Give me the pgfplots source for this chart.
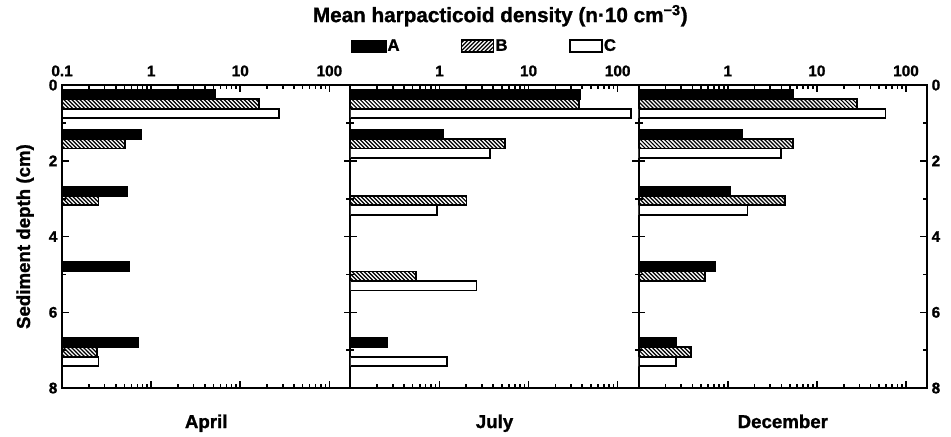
\documentclass[border=0pt]{standalone}
\usepackage{fontspec}
\setmainfont{Liberation Sans}[BoldFeatures={FakeBold=1.2}]
\usepackage{pgfplots}
\pgfplotsset{compat=1.18}
\usetikzlibrary{patterns}

% heavier hatch than the stock one
\pgfdeclarepatternformonly{hatchNW}{\pgfqpoint{-1pt}{-1pt}}{\pgfqpoint{4pt}{4pt}}{\pgfqpoint{3pt}{3pt}}{%
  \pgfsetlinewidth{0.9pt}
  \pgfpathmoveto{\pgfqpoint{0pt}{3pt}}
  \pgfpathlineto{\pgfqpoint{3.1pt}{-0.1pt}}
  \pgfusepath{stroke}}
\pgfdeclarepatternformonly{hatchNE}{\pgfqpoint{-1pt}{-1pt}}{\pgfqpoint{4pt}{4pt}}{\pgfqpoint{3pt}{3pt}}{%
  \pgfsetlinewidth{0.9pt}
  \pgfpathmoveto{\pgfqpoint{0pt}{0pt}}
  \pgfpathlineto{\pgfqpoint{3.1pt}{3.1pt}}
  \pgfusepath{stroke}}

\pgfplotsset{
  panel/.style={
    scale only axis, width=216pt, height=227pt,
    xmin=0.1, xmax=172, log origin x=infty,
    ymin=0, ymax=8, y dir=reverse,
    xbar, bar width=0.25, bar shift=0pt,
    xtick={0.1,1,10,100},
    minor xtick={0.2,0.3,0.4,0.5,0.6,0.7,0.8,0.9,2,3,4,5,6,7,8,9,20,30,40,50,60,70,80,90},
    xticklabel pos=upper, xtick pos=both, xtick align=inside,
    ytick={0,2,4,6,8}, minor ytick={1,3,5,7},
    ytick align=inside, ytick pos=both,
    major tick length=5pt, minor tick length=3pt,
    axis line style={line width=1.6pt},
    every tick/.style={line width=1.2pt, black},
    tick label style={font=\bfseries\fontsize{11.5}{13}\selectfont},
    xticklabel style={yshift=3pt},
    /pgf/number format/assume math mode=true,
    xlabel style={at={(axis description cs:0.5,-0.132)}, anchor=base,
      font=\bfseries\fontsize{14}{16}\selectfont},
  },
  sA/.style={fill=black, draw=black, line width=1.3pt},
  sB/.style={pattern=hatchNW, draw=black, line width=1.3pt},
  sC/.style={fill=white, draw=black, line width=1.3pt},
}

\begin{document}
\begin{tikzpicture}
\useasboundingbox (-46.5pt,63.75pt) rectangle (666pt,-263pt);

% April
\begin{semilogxaxis}[panel, at={(0pt,0pt)}, anchor=north west,
  xticklabels={0.1,1,10,100}, yticklabel pos=left,
  xlabel={April},
  ylabel={Sediment depth (cm)},
  ylabel style={at={(axis description cs:-0.128,0.5)}, anchor=center,
    font=\bfseries\fontsize{14}{16}\selectfont},
]
\addplot[sA, forget plot] coordinates {(5.2,0.25) (0.77,1.3) (0.54,2.8) (0.56,4.8) (0.72,6.8)};
\addplot[sB, forget plot] coordinates {(16.3,0.5) (0.51,1.55) (0.256,3.05) (0.245,7.05)};
\addplot[sC, forget plot] coordinates {(27.4,0.75) (0.256,7.3)};
\end{semilogxaxis}

% July
\begin{semilogxaxis}[panel, at={(216pt,0pt)}, anchor=north west,
  xticklabels={,1,10,100}, yticklabels={},
  xlabel={July},
  title={Mean harpacticoid density (n·10 cm\textsuperscript{−3})},
  title style={at={(axis description cs:0.52,1.1815)}, anchor=base,
    font=\bfseries\fontsize{15.5}{17}\selectfont},
  legend style={at={(axis description cs:0.464,1.129)}, anchor=center,
    draw=none, fill=none, legend columns=3,
    font=\bfseries\fontsize{12.5}{14}\selectfont,
    /tikz/every even column/.append style={column sep=45pt},
    nodes={inner xsep=1pt}},
]
\addlegendimage{legend image code/.code={\fill[black] (0pt,-4.5pt) rectangle (26pt,4.5pt);}}
\addlegendentry{A}
\addlegendimage{legend image code/.code={\draw[pattern=hatchNE, line width=0.9pt] (0pt,-4.5pt) rectangle (24pt,4.5pt);}}
\addlegendentry{B}
\addlegendimage{legend image code/.code={\draw[fill=white, line width=1.2pt] (0pt,-4.5pt) rectangle (24pt,4.5pt);}}
\addlegendentry{C}
\addplot[sA, forget plot] coordinates {(37.7,0.25) (1.09,1.3) (0.26,6.8)};
\addplot[sB, forget plot] coordinates {(36.9,0.5) (5.4,1.55) (2.01,3.05) (0.55,5.05)};
\addplot[sC, forget plot] coordinates {(142,0.75) (3.68,1.8) (0.94,3.3) (2.6,5.3) (1.22,7.3)};
\end{semilogxaxis}

% December
\begin{semilogxaxis}[panel, at={(432pt,0pt)}, anchor=north west,
  xticklabels={,1,10,100}, yticklabel pos=right,
  xlabel={December},
]
\addplot[sA, forget plot] coordinates {(5.35,0.25) (1.45,1.3) (1.07,2.8) (0.72,4.8) (0.26,6.8)};
\addplot[sB, forget plot] coordinates {(28.2,0.5) (5.4,1.55) (4.36,3.05) (0.55,5.05) (0.39,7.05)};
\addplot[sC, forget plot] coordinates {(59,0.75) (3.93,1.8) (1.66,3.3) (0.26,7.3)};
\end{semilogxaxis}

\end{tikzpicture}
\end{document}
